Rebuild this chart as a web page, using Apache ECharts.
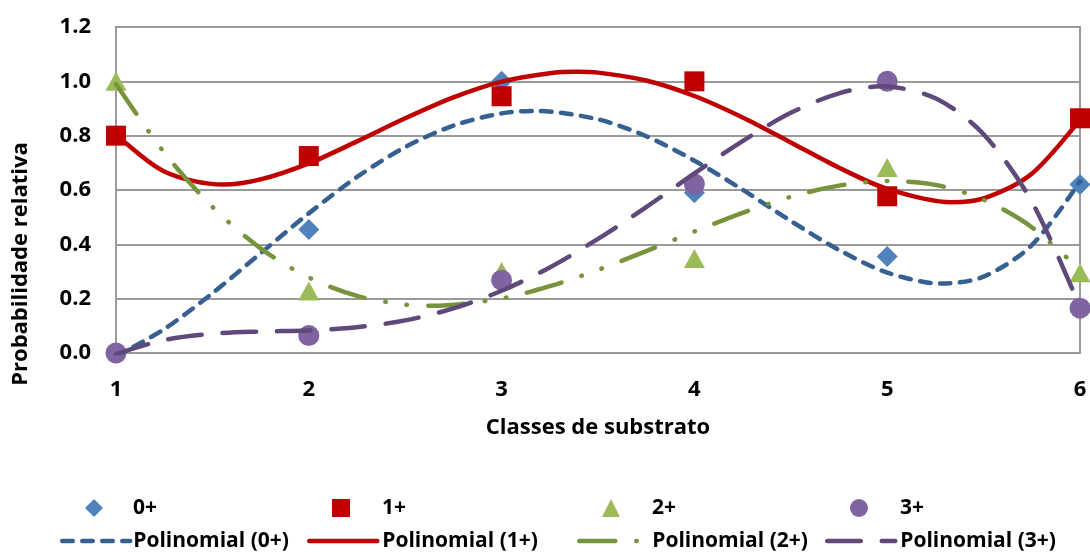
<!DOCTYPE html>
<html>
<head>
<meta charset="utf-8">
<script src="https://cdn.jsdelivr.net/npm/echarts@6/dist/echarts.min.js"></script>
<style>
  html, body { margin: 0; padding: 0; background: #ffffff; }
  #chart { width: 1090px; height: 554px; }
</style>
</head>
<body>
<div id="chart"></div>
<script>
// Substrate classes on the x axis
const classes = [1, 2, 3, 4, 5, 6];

// Relative probability per age group
const prob0 = [0.0, 0.455, 1.0, 0.59, 0.355, 0.62];
const prob1 = [0.80, 0.725, 0.945, 1.0, 0.577, 0.864];
const prob2 = [1.0, 0.228, 0.30, 0.348, 0.683, 0.295];
const prob3 = [0.0, 0.064, 0.268, 0.622, 1.0, 0.165];

// Polynomial trend curves: sample positions along the class axis and the curve height there
const trend0X = [1, 1.25, 1.5, 1.75, 2, 2.25, 2.5, 2.75, 3, 3.174, 3.5,
                 3.75, 4, 4.25, 4.5, 4.75, 5, 5.279, 5.5, 5.75, 6];
const trend0 = [-0.012, 0.088, 0.220, 0.367, 0.514, 0.648, 0.758, 0.837, 0.882, 0.891, 0.860,
                0.798, 0.708, 0.601, 0.486, 0.379, 0.296, 0.2556, 0.281, 0.397, 0.632];

const trend1X = [1, 1.25, 1.556, 1.75, 2, 2.25, 2.5, 2.75, 3, 3.25, 3.39, 3.5,
                 3.75, 4, 4.25, 4.5, 4.75, 5, 5.33, 5.5, 5.75, 6];
const trend1 = [0.805, 0.668, 0.620, 0.639, 0.698, 0.779, 0.864, 0.941, 0.999, 1.030, 1.035, 1.032,
                1.003, 0.946, 0.867, 0.775, 0.682, 0.604, 0.555, 0.569, 0.660, 0.859];

const trend2X = [1, 1.25, 1.5, 1.75, 2, 2.25, 2.5, 2.644, 3, 3.25, 3.5,
                 3.75, 4, 4.25, 4.5, 4.75, 5, 5.25, 5.5, 5.75, 6];
const trend2 = [0.990, 0.738, 0.538, 0.385, 0.278, 0.210, 0.178, 0.1736, 0.201, 0.246, 0.306,
                0.375, 0.447, 0.516, 0.575, 0.616, 0.633, 0.619, 0.564, 0.463, 0.305];

const trend3X = [1, 1.25, 1.5, 1.75, 2, 2.25, 2.5, 2.75, 3, 3.25, 3.5,
                 3.75, 4, 4.25, 4.5, 4.75, 4.967, 5.25, 5.5, 5.75, 6];
const trend3 = [-0.004, 0.048, 0.071, 0.079, 0.083, 0.095, 0.120, 0.164, 0.229, 0.315, 0.420,
                0.537, 0.661, 0.780, 0.884, 0.956, 0.9816, 0.938, 0.805, 0.557, 0.169];

const groupNames = ['0+', '1+', '2+', '3+'];
const trendNames = ['Polinomial (0+)', 'Polinomial (1+)', 'Polinomial (2+)', 'Polinomial (3+)'];

const FONT = '"Open Sans", "Noto Sans", sans-serif';
const AXIS_FONT_SIZE = 22;
const LEGEND_FONT_SIZE = 21;
const GRID_GREY = '#9a9a9a';
const LINE_W = 4.5;

function pairs(xs, ys) {
  return xs.map((x, i) => [x, ys[i]]);
}

function scatter(name, values, symbol, size, color) {
  return {
    name: name,
    type: 'scatter',
    data: pairs(classes, values),
    symbol: symbol,
    symbolSize: size,
    itemStyle: { color: color, opacity: 1 },
    z: 2,
    emphasis: { disabled: true }
  };
}

function trend(name, xs, values, color, dash) {
  return {
    name: name,
    type: 'line',
    data: pairs(xs, values),
    smooth: 0.3,
    symbol: 'none',
    showSymbol: false,
    lineStyle: { color: color, width: LINE_W, type: dash, cap: 'round', join: 'round' },
    itemStyle: { color: color },
    z: 3,
    emphasis: { disabled: true }
  };
}

const axisText = {
  fontFamily: FONT,
  fontWeight: 'bold',
  fontSize: AXIS_FONT_SIZE,
  color: '#000000'
};

// One legend block per entry so the columns can sit where they belong
function legendEntry(item, left, top, iconW, iconH, gapLeft) {
  return {
    left: left,
    top: top,
    padding: 0,
    orient: 'horizontal',
    data: [item],
    itemWidth: iconW,
    itemHeight: iconH,
    selectedMode: false,
    lineStyle: { width: LINE_W, cap: 'round' },
    textStyle: {
      fontFamily: FONT,
      fontWeight: 'bold',
      fontSize: LEGEND_FONT_SIZE,
      color: '#000000',
      lineHeight: 24,
      padding: [0, 0, 0, gapLeft]
    }
  };
}

// Column centres of the legend icons and the start of their labels
const legendIconX = [94, 341, 611, 859];
const legendTextX = [133, 382, 652, 900];
const legendRowY = [508, 541];

const legends = [];
legendIconX.forEach((cx, i) => {
  const tx = legendTextX[i];
  legends.push(legendEntry(groupNames[i], cx - 9, legendRowY[0] - 12, 18, 18, tx - cx - 14));
  legends.push(legendEntry({ name: trendNames[i], itemStyle: { opacity: 0 } },
    cx - 34, legendRowY[1] - 12, 68, 12, tx - cx - 41));
});

const chart = echarts.init(document.getElementById('chart'), null, { renderer: 'canvas' });

chart.setOption({
  animation: false,
  backgroundColor: '#ffffff',
  grid: {
    left: 116, right: 10, top: 27, bottom: 201,
    show: true, borderColor: GRID_GREY, borderWidth: 2, backgroundColor: 'transparent'
  },
  xAxis: {
    type: 'value',
    min: 1, max: 6, interval: 1,
    name: 'Classes de substrato',
    nameLocation: 'middle',
    nameGap: 64,
    nameTextStyle: axisText,
    axisLine: { show: true, lineStyle: { color: GRID_GREY, width: 2 } },
    axisTick: { show: false },
    splitLine: { show: false },
    axisLabel: Object.assign({ margin: 26 }, axisText)
  },
  yAxis: {
    type: 'value',
    min: 0, max: 1.2, interval: 0.2,
    axisLine: { show: true, lineStyle: { color: GRID_GREY, width: 2 } },
    axisTick: { show: false },
    splitLine: { show: true, lineStyle: { color: GRID_GREY, width: 2 } },
    axisLabel: Object.assign({ margin: 25, formatter: v => v.toFixed(1) }, axisText)
  },
  graphic: [{
    type: 'text',
    x: 21, y: 264,
    rotation: Math.PI / 2,
    style: {
      text: 'Probabilidade relativa',
      fontFamily: FONT, fontWeight: 'bold', fontSize: AXIS_FONT_SIZE, fill: '#000000',
      align: 'center', verticalAlign: 'middle'
    }
  }],
  legend: legends,
  series: [
    scatter(groupNames[0], prob0, 'diamond', 21, '#4F81BD'),
    scatter(groupNames[1], prob1, 'rect', 20, '#C00000'),
    scatter(groupNames[2], prob2, 'triangle', [21, 19], '#9BBB59'),
    scatter(groupNames[3], prob3, 'circle', 21, '#8064A2'),
    trend(trendNames[0], trend0X, trend0, '#376092', [10.5, 9.5]),
    trend(trendNames[1], trend1X, trend1, '#C00000', 'solid'),
    trend(trendNames[2], trend2X, trend2, '#77933C', [36, 21, 0.5, 21, 0.5, 21]),
    trend(trendNames[3], trend3X, trend3, '#5F497A', [33.5, 21])
  ]
});
</script>
</body>
</html>
